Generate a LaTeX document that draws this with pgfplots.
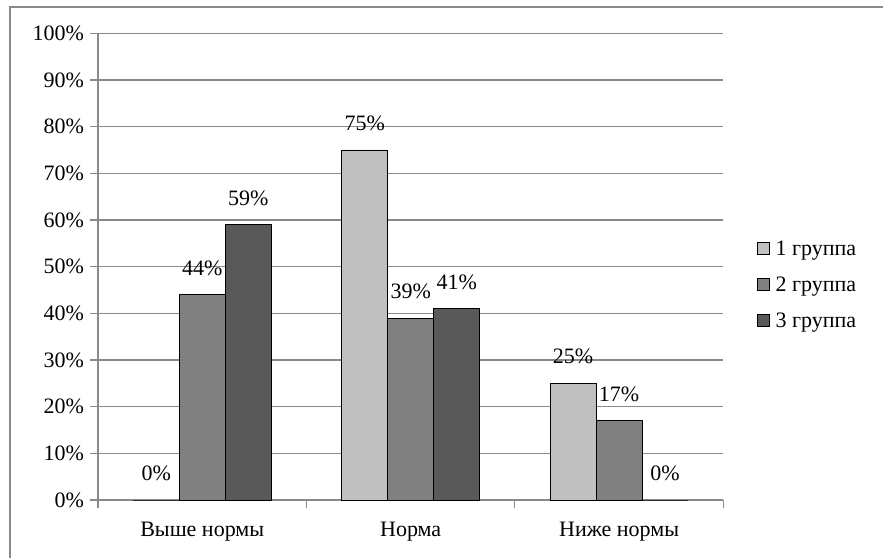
\documentclass[border=0pt]{standalone}
\usepackage{fontspec}
\setmainfont{Liberation Serif}
\usepackage{pgfplots}
\pgfplotsset{compat=1.18}
\definecolor{gridgray}{RGB}{138,138,138}
\definecolor{gA}{RGB}{192,192,192}
\definecolor{gB}{RGB}{128,128,128}
\definecolor{gC}{RGB}{89,89,89}
\begin{document}
\begin{tikzpicture}
\path[use as bounding box] (-73.5pt,-43.5pt) rectangle (588.75pt,375pt);
\draw[gridgray, line width=0.9pt] (-66pt,-43.5pt) -- (-66pt,369.75pt) -- (588.75pt,369.75pt);
\begin{axis}[
  at={(0pt,0pt)}, anchor=south west,
  scale only axis,
  width=469pt, height=350pt,
  xmin=-0.5, xmax=2.5,
  ymin=0, ymax=100,
  axis lines=left,
  axis line style={draw=gridgray, line width=0.8pt, -},
  ytick={0,10,...,100},
  yticklabel={\pgfmathprintnumber{\tick}\%},
  xtick={-0.5,0.5,1.5,2.5},
  x tick label as interval,
  xticklabels={Выше нормы, Норма, Ниже нормы},
  tick align=outside,
  major tick length=6pt,
  every tick/.style={draw=gridgray, line width=0.8pt},
  ymajorgrids,
  grid style={draw=gridgray, line width=0.8pt},
  /pgf/number format/assume math mode=true,
  tick label style={font=\fontsize{16.5}{19}\selectfont, text=black},
  xticklabel style={yshift=-7pt},
  yticklabel style={xshift=-1pt},
  ybar=0pt,
  bar width=34.5pt,
  nodes near coords={\pgfmathprintnumber{\pgfplotspointmeta}\%},
  every node near coord/.append style={anchor=center, yshift=20pt, font=\fontsize{16.5}{19}\selectfont, text=black},
  legend style={at={(1.053,0.46)}, anchor=west, draw=none, fill=none,
    font=\fontsize{16.5}{19}\selectfont, row sep=10.5pt, inner sep=0pt},
  legend cell align=left,
  legend image code/.code={\draw[#1, draw=black, line width=0.7pt] (0pt,-4pt) rectangle (9pt,5pt); \path (11.5pt,0pt);},
]
\addplot[fill=gA, draw=black, line width=0.7pt] coordinates {(0,0) (1,75) (2,25)};
\addplot[fill=gB, draw=black, line width=0.7pt] coordinates {(0,44) (1,39) (2,17)};
\addplot[fill=gC, draw=black, line width=0.7pt] coordinates {(0,59) (1,41) (2,0)};
\legend{1 группа, 2 группа, 3 группа}
\end{axis}
\end{tikzpicture}
\end{document}
